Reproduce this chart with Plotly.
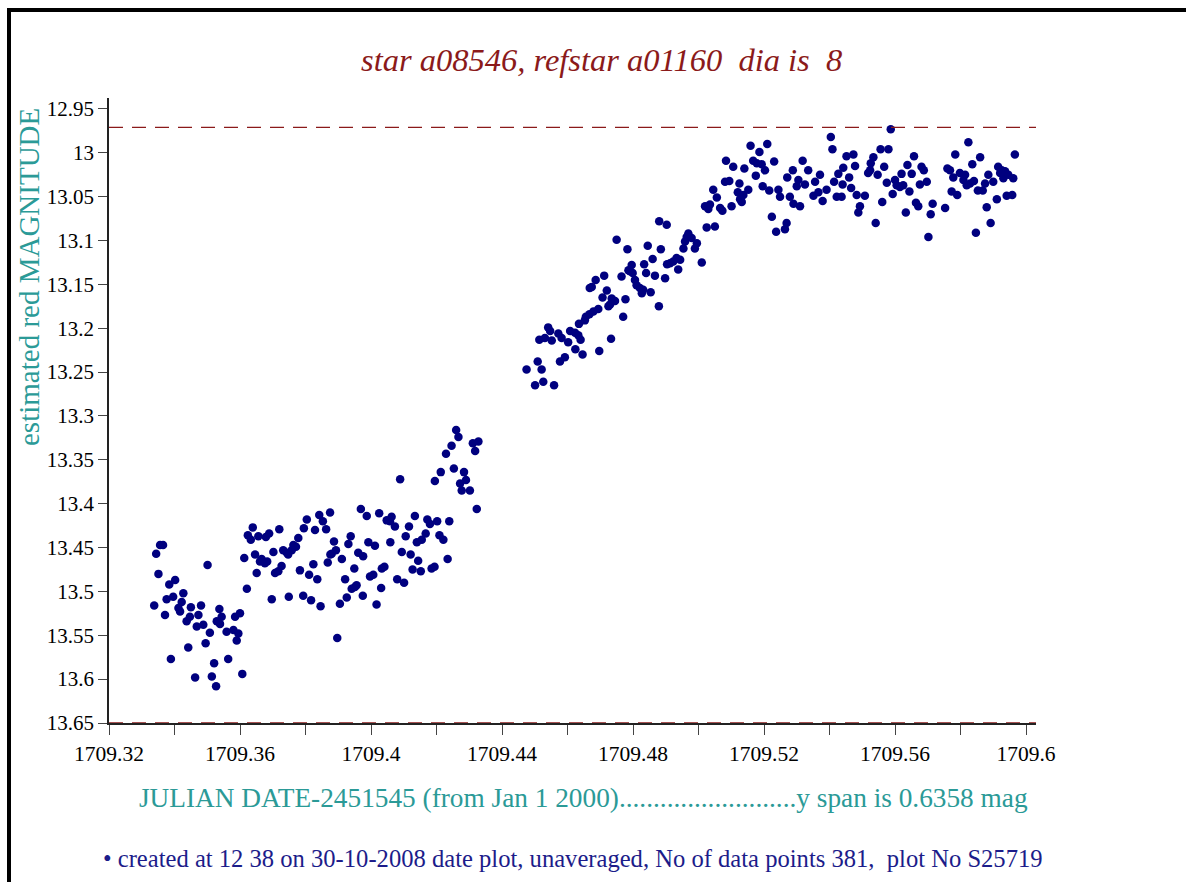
import plotly.graph_objects as go

# ---------------- data ----------------
title_text = "star a08546, refstar a01160  dia is  8"
y_label = "estimated red MAGNITUDE"
x_label = "JULIAN DATE-2451545 (from Jan 1 2000)..........................y span is 0.6358 mag"
footer = "created at 12 38 on 30-10-2008 date plot, unaveraged, No of data points 381,  plot No S25719"

x_tick_vals = [1709.32, 1709.36, 1709.40, 1709.44, 1709.48, 1709.52, 1709.56, 1709.60]
x_tick_text = ["1709.32", "1709.36", "1709.4", "1709.44", "1709.48", "1709.52", "1709.56", "1709.6"]
y_tick_vals = [12.95, 13.0, 13.05, 13.1, 13.15, 13.2, 13.25, 13.3, 13.35, 13.4, 13.45, 13.5, 13.55, 13.6, 13.65]
y_tick_text = ["12.95", "13", "13.05", "13.1", "13.15", "13.2", "13.25", "13.3", "13.35", "13.4",
               "13.45", "13.5", "13.55", "13.6", "13.65"]

ref_lines = [12.971, 13.65]   # brightest-point level and lower limit

# first block of observations (before the gap)
jd_a = [1709.3338, 1709.3344, 1709.3356, 1709.3365, 1709.3351, 1709.3371, 1709.3376, 1709.3384, 1709.3389, 1709.3396,
        1709.3402, 1709.3412, 1709.3417, 1709.3422, 1709.3427, 1709.3437, 1709.3442, 1709.3447, 1709.3450, 1709.3463,
        1709.3468, 1709.3473, 1709.3481, 1709.3488, 1709.3495, 1709.3501, 1709.3508, 1709.3514, 1709.3521, 1709.3527,
        1709.3529, 1709.3537, 1709.3539, 1709.3544, 1709.3559, 1709.3564, 1709.3580, 1709.3585, 1709.3590, 1709.3595,
        1709.3600, 1709.3607, 1709.3613, 1709.3621, 1709.3624, 1709.3633, 1709.3639, 1709.3656, 1709.3646, 1709.3651,
        1709.3661, 1709.3666, 1709.3676, 1709.3683, 1709.3679, 1709.3689, 1709.3697, 1709.3702, 1709.3707, 1709.3717,
        1709.3720, 1709.3727, 1709.3732, 1709.3743, 1709.3747, 1709.3749, 1709.3758, 1709.3763, 1709.3771, 1709.3778,
        1709.3783, 1709.3793, 1709.3795, 1709.3804, 1709.3811, 1709.3817, 1709.3824, 1709.3829, 1709.3836, 1709.3842,
        1709.3846, 1709.3853, 1709.3863, 1709.3868, 1709.3875, 1709.3876, 1709.3880, 1709.3887, 1709.3893, 1709.3897,
        1709.3905, 1709.3911, 1709.3921, 1709.3926, 1709.3931, 1709.3938, 1709.3941, 1709.3949, 1709.3951, 1709.3956,
        1709.3961, 1709.3969, 1709.3975, 1709.3976, 1709.3987, 1709.3992, 1709.3997, 1709.4007, 1709.4012, 1709.4017,
        1709.4025, 1709.4031, 1709.4033, 1709.4041, 1709.4048, 1709.4058, 1709.4059, 1709.4063, 1709.4073, 1709.4080,
        1709.4089, 1709.4094, 1709.4101, 1709.4106, 1709.4116, 1709.4121, 1709.4127, 1709.4134, 1709.4140, 1709.4144,
        1709.4152, 1709.4155, 1709.4167, 1709.4172, 1709.4180, 1709.4185, 1709.4194, 1709.4195, 1709.4202, 1709.4209,
        1709.4213, 1709.4221, 1709.4229, 1709.4234, 1709.4239, 1709.4246, 1709.4253, 1709.4260, 1709.4267, 1709.4272,
        1709.4277, 1709.4284, 1709.4290, 1709.4302, 1709.4311, 1709.4318, 1709.4323, 1709.4328]
mag_a = [13.516, 13.457, 13.447, 13.447, 13.480, 13.527, 13.509, 13.492, 13.577, 13.506,
         13.487, 13.519, 13.523, 13.512, 13.502, 13.534, 13.564, 13.529, 13.518, 13.598,
         13.540, 13.527, 13.516, 13.538, 13.559, 13.470, 13.547, 13.597, 13.582, 13.608,
         13.534, 13.520, 13.537, 13.529, 13.546, 13.577, 13.544, 13.529, 13.556, 13.548,
         13.525, 13.594, 13.462, 13.497, 13.436, 13.441, 13.427, 13.437, 13.458, 13.479,
         13.466, 13.463, 13.468, 13.466, 13.438, 13.434, 13.509, 13.455, 13.479, 13.477,
         13.429, 13.471, 13.453, 13.456, 13.458, 13.506, 13.453, 13.447, 13.449, 13.439,
         13.476, 13.505, 13.428, 13.418, 13.481, 13.510, 13.469, 13.430, 13.486, 13.413,
         13.517, 13.420, 13.429, 13.467, 13.410, 13.458, 13.457, 13.443, 13.453, 13.553,
         13.514, 13.463, 13.486, 13.507, 13.446, 13.437, 13.497, 13.474, 13.495, 13.493,
         13.456, 13.406, 13.505, 13.460, 13.414, 13.444, 13.483, 13.481, 13.448, 13.515,
         13.411, 13.496, 13.474, 13.472, 13.419, 13.420, 13.444, 13.415, 13.426, 13.486,
         13.372, 13.455, 13.490, 13.437, 13.426, 13.458, 13.475, 13.414, 13.444, 13.465,
         13.477, 13.441, 13.434, 13.418, 13.423, 13.474, 13.472, 13.374, 13.420, 13.436,
         13.364, 13.441, 13.343, 13.463, 13.420, 13.334, 13.360, 13.316, 13.324, 13.377,
         13.385, 13.364, 13.373, 13.385, 13.331, 13.340, 13.406, 13.329]

# second block of observations (after the gap)
jd_b = [1709.4475, 1709.4501, 1709.4509, 1709.4514, 1709.4521, 1709.4526, 1709.4531, 1709.4541, 1709.4547, 1709.4552,
        1709.4559, 1709.4572, 1709.4577, 1709.4582, 1709.4592, 1709.4602, 1709.4608, 1709.4623, 1709.4624, 1709.4633,
        1709.4635, 1709.4640, 1709.4646, 1709.4653, 1709.4656, 1709.4667, 1709.4668, 1709.4674, 1709.4679, 1709.4686,
        1709.4694, 1709.4697, 1709.4707, 1709.4712, 1709.4720, 1709.4725, 1709.4730, 1709.4733, 1709.4735, 1709.4745,
        1709.4750, 1709.4765, 1709.4770, 1709.4777, 1709.4783, 1709.4786, 1709.4791, 1709.4796, 1709.4799, 1709.4806,
        1709.4811, 1709.4821, 1709.4827, 1709.4831, 1709.4834, 1709.4840, 1709.4845, 1709.4854, 1709.4860, 1709.4867,
        1709.4879, 1709.4880, 1709.4885, 1709.4898, 1709.4903, 1709.4904, 1709.4913, 1709.4923, 1709.4933, 1709.4938,
        1709.4944, 1709.4954, 1709.4959, 1709.4964, 1709.4969, 1709.4979, 1709.4989, 1709.4995, 1709.5010]
mag_b = [13.247, 13.265, 13.238, 13.213, 13.247, 13.261, 13.211, 13.199, 13.203, 13.214,
         13.265, 13.206, 13.238, 13.211, 13.233, 13.216, 13.203, 13.205, 13.224, 13.208,
         13.195, 13.213, 13.230, 13.191, 13.187, 13.184, 13.154, 13.153, 13.181, 13.145,
         13.178, 13.226, 13.165, 13.140, 13.157, 13.175, 13.173, 13.212, 13.166, 13.169,
         13.099, 13.141, 13.187, 13.167, 13.110, 13.134, 13.135, 13.128, 13.137, 13.145,
         13.151, 13.154, 13.160, 13.156, 13.127, 13.137, 13.106, 13.159, 13.121, 13.140,
         13.175, 13.078, 13.110, 13.143, 13.082, 13.127, 13.126, 13.124, 13.120, 13.133,
         13.122, 13.109, 13.101, 13.096, 13.092, 13.097, 13.109, 13.103, 13.125]

# third block (plateau)
jd_c = [1709.5020, 1709.5025, 1709.5030, 1709.5035, 1709.5045, 1709.5050, 1709.5056, 1709.5066, 1709.5073, 1709.5081,
        1709.5084, 1709.5094, 1709.5101, 1709.5106, 1709.5120, 1709.5125, 1709.5127, 1709.5132, 1709.5137, 1709.5140,
        1709.5152, 1709.5159, 1709.5167, 1709.5175, 1709.5178, 1709.5186, 1709.5193, 1709.5196, 1709.5203, 1709.5210,
        1709.5216, 1709.5224, 1709.5231, 1709.5237, 1709.5244, 1709.5249, 1709.5264, 1709.5269, 1709.5271, 1709.5279,
        1709.5288, 1709.5290, 1709.5300, 1709.5305, 1709.5310, 1709.5318, 1709.5325, 1709.5335, 1709.5351, 1709.5356,
        1709.5366, 1709.5371, 1709.5379, 1709.5391, 1709.5404, 1709.5409, 1709.5414, 1709.5422, 1709.5427, 1709.5437,
        1709.5440, 1709.5442, 1709.5452, 1709.5460, 1709.5466, 1709.5473, 1709.5478, 1709.5483, 1709.5488, 1709.5493,
        1709.5508, 1709.5518, 1709.5524, 1709.5526, 1709.5534, 1709.5541, 1709.5547, 1709.5556, 1709.5561, 1709.5567,
        1709.5575, 1709.5580, 1709.5587, 1709.5593, 1709.5600, 1709.5605, 1709.5615, 1709.5620, 1709.5625, 1709.5633,
        1709.5638, 1709.5644, 1709.5651, 1709.5658, 1709.5664, 1709.5671, 1709.5676, 1709.5681, 1709.5688, 1709.5697,
        1709.5702, 1709.5709, 1709.5715, 1709.5753, 1709.5760, 1709.5768, 1709.5773, 1709.5778, 1709.5784, 1709.5790,
        1709.5798, 1709.5809, 1709.5814, 1709.5819, 1709.5824, 1709.5829, 1709.5836, 1709.5841, 1709.5847, 1709.5853,
        1709.5860, 1709.5868, 1709.5875, 1709.5880, 1709.5885, 1709.5892, 1709.5900, 1709.5911, 1709.5915, 1709.5921,
        1709.5926, 1709.5931, 1709.5936, 1709.5941, 1709.5946, 1709.5958, 1709.5961, 1709.5966]
mag_c = [13.061, 13.085, 13.064, 13.059, 13.042, 13.084, 13.051, 13.063, 13.066, 13.033,
         13.009, 13.032, 13.061, 13.016, 13.045, 13.035, 13.053, 13.056, 13.048, 13.018,
         13.042, 12.992, 13.009, 13.026, 13.012, 12.999, 13.013, 13.038, 13.020, 12.990,
         13.043, 13.073, 13.010, 13.090, 13.042, 13.050, 13.087, 13.080, 13.028, 13.050,
         13.020, 13.058, 13.038, 13.031, 13.061, 13.009, 13.036, 13.020, 13.049, 13.033,
         13.045, 13.025, 13.055, 13.042, 12.982, 12.996, 13.033, 13.050, 13.024, 13.050,
         13.036, 13.017, 13.004, 13.028, 13.040, 13.002, 13.015, 13.048, 13.068, 13.061,
         13.049, 13.023, 13.020, 13.012, 13.005, 13.080, 13.025, 12.996, 13.056, 13.016,
         13.034, 12.996, 12.973, 13.047, 13.031, 13.037, 13.039, 13.024, 13.037, 13.068,
         13.014, 13.044, 13.024, 13.004, 13.057, 13.061, 13.036, 13.016, 13.020, 13.033,
         13.096, 13.070, 13.058, 13.063, 13.018, 13.020, 13.044, 13.028, 13.002, 13.048,
         13.023, 13.031, 13.025, 13.037, 12.988, 13.035, 13.013, 13.032, 13.091, 13.043,
         13.005, 13.043, 13.035, 13.062, 13.025, 13.080, 13.033, 13.053, 13.016, 13.023,
         13.020, 13.029, 13.021, 13.049, 13.025, 13.048, 13.029, 13.002]

# ---------------- figure ----------------
W, H = 1186, 882
L, R, T, B = 109, 150, 98, 159
pw, ph = W - L - R, H - T - B

def px_x(p):
    return (p - L) / pw

def px_y(p):
    return (H - B - p) / ph

serif = "Liberation Serif, Times New Roman, serif"
teal = "#2b9a97"
navy = "#00007f"
darkred = "#8b1a1a"

jd = jd_a + jd_b + jd_c
mag = mag_a + mag_b + mag_c

fig = go.Figure()
fig.add_trace(go.Scatter(
    x=jd, y=mag, mode="markers", name=footer,
    marker=dict(color=navy, size=8.5, line=dict(width=0)),
    showlegend=False, hoverinfo="x+y",
))

shapes = []
for v in ref_lines:
    shapes.append(dict(type="line", xref="paper", x0=0, x1=1, yref="y", y0=v, y1=v,
                       line=dict(color=darkred, width=1.3, dash="14px,9px"), layer="above"))
# outer frame (thick black border at left and top)
shapes.append(dict(type="rect", xref="paper", yref="paper",
                   x0=px_x(9), x1=px_x(W + 20), y0=px_y(H + 20), y1=px_y(10),
                   line=dict(color="black", width=4), layer="above"))

annotations = [
    dict(text="<i>" + title_text + "</i>", xref="paper", yref="paper", x=px_x(601), y=px_y(60),
         showarrow=False, xanchor="center", yanchor="middle",
         font=dict(family=serif, size=32.5, color=darkred)),
    dict(text=y_label, xref="paper", yref="paper", x=px_x(29), y=px_y(277),
         showarrow=False, xanchor="center", yanchor="middle", textangle=-90,
         font=dict(family=serif, size=29, color=teal)),
    dict(text=x_label, xref="paper", yref="paper", x=px_x(583), y=px_y(798),
         showarrow=False, xanchor="center", yanchor="middle",
         font=dict(family=serif, size=27.3, color=teal)),
    dict(text="\u2022 " + footer, xref="paper", yref="paper", x=px_x(101), y=px_y(858),
         showarrow=False, xanchor="left", yanchor="middle",
         font=dict(family=serif, size=24.6, color="#1c1c8a")),
]

fig.update_layout(
    width=W, height=H,
    margin=dict(l=L, r=R, t=T, b=B, pad=0),
    paper_bgcolor="white", plot_bgcolor="white",
    shapes=shapes, annotations=annotations,
    font=dict(family=serif, color="black"),
    xaxis=dict(range=[1709.32, 1709.32 + pw / 3275.0], tickvals=x_tick_vals, ticktext=x_tick_text,
               showgrid=False, zeroline=False, showline=True, linecolor="#222222", linewidth=1.6,
               ticks="outside", ticklen=10, tickwidth=1.4, tickcolor="#444444",
               tickfont=dict(family=serif, size=21.5, color="black"),
               minor=dict(dtick=0.02, tick0=1709.32, ticks="outside", ticklen=10, tickwidth=1.4,
                          tickcolor="#444444", showgrid=False)),
    yaxis=dict(range=[13.65, 13.65 - ph / 877.2], tickvals=y_tick_vals, ticktext=y_tick_text,
               showgrid=False, zeroline=False, showline=True, linecolor="#222222", linewidth=1.6,
               ticks="outside", ticklen=9, tickwidth=1.4, tickcolor="#444444",
               tickfont=dict(family=serif, size=21, color="black")),
)

fig.write_html("out.html", config={"displayModeBar": False},
               post_script="document.body.style.margin='0';document.body.style.overflow='hidden';")
